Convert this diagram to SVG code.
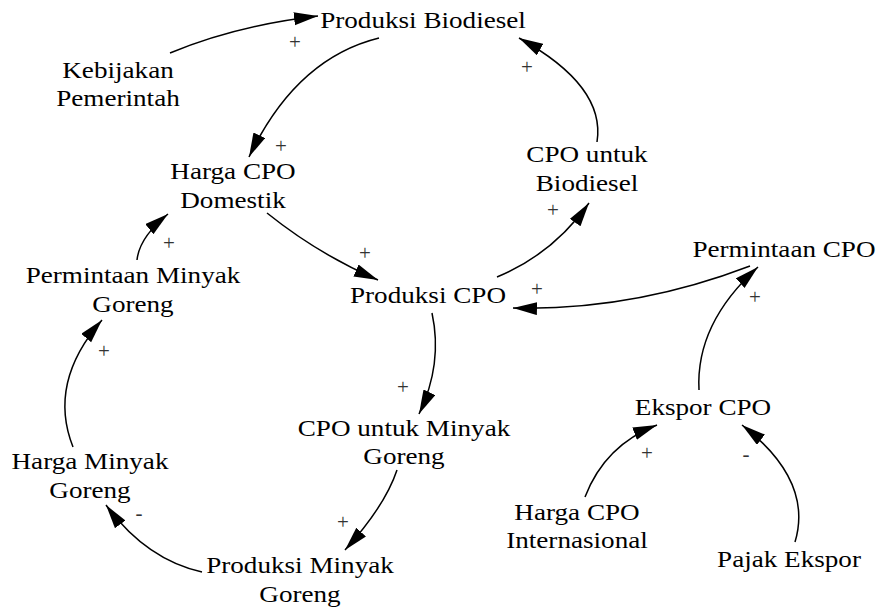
<svg xmlns="http://www.w3.org/2000/svg" width="878" height="608" viewBox="0 0 878 608">
<style>
.t{font-family:"Liberation Serif","Times New Roman",serif;font-size:23px;fill:#000;text-anchor:middle}
.s{font-family:"Liberation Serif","Times New Roman",serif;font-size:21px;fill:#333;text-anchor:middle}
.c{fill:none;stroke:#000;stroke-width:1.5;marker-end:url(#ah)}
</style>
<defs>
<marker id="ah" markerUnits="userSpaceOnUse" markerWidth="26" markerHeight="14" refX="24" refY="6.5" orient="auto">
<path d="M0,0 L24,6.5 L0,13 z" fill="#000"/>
</marker>
</defs>
<rect width="878" height="608" fill="#fff"/>
<g id="connectors">
<path class="c" d="M170,53 Q236,25.5 318,16"/>
<path class="c" d="M379,38 Q296,58.5 249,157"/>
<path class="c" d="M597,142 Q606,86 519,38"/>
<path class="c" d="M267,213 Q318,254 378,280"/>
<path class="c" d="M497,277 Q553,254 589,203"/>
<path class="c" d="M750,266 Q632.5,311 513,308"/>
<path class="c" d="M699,390 Q695.5,323.5 758,267"/>
<path class="c" d="M585,497 Q605,445 657,425"/>
<path class="c" d="M795,542 Q813.5,480.5 742,425"/>
<path class="c" d="M432,313 Q443,364 419,414"/>
<path class="c" d="M397,470 Q385,506 345,550"/>
<path class="c" d="M202,572 Q146,559.5 106,505"/>
<path class="c" d="M73,447 Q47.5,382.5 102,320"/>
<path class="c" d="M137,260 Q139.5,237 168,214"/>
<text class="s" x="295" y="49">+</text>
<text class="s" x="281" y="153">+</text>
<text class="s" x="527" y="74">+</text>
<text class="s" x="365" y="260">+</text>
<text class="s" x="553" y="217">+</text>
<text class="s" x="537" y="296">+</text>
<text class="s" x="755" y="304">+</text>
<text class="s" x="647" y="460">+</text>
<text class="s" x="746" y="461">-</text>
<text class="s" x="403" y="394">+</text>
<text class="s" x="343" y="529">+</text>
<text class="s" x="139" y="520">-</text>
<text class="s" x="104" y="358">+</text>
<text class="s" x="169" y="250">+</text>
</g>
<g id="produksi-biodiesel" transform="translate(423,0)"><text class="t" transform="scale(1.18,1)" x="0" y="28">Produksi Biodiesel</text></g>
<g id="kebijakan-pemerintah" transform="translate(118,0)"><text class="t" transform="scale(1.18,1)" x="0" y="78">Kebijakan</text><text class="t" transform="scale(1.18,1)" x="0" y="106">Pemerintah</text></g>
<g id="harga-cpo-domestik" transform="translate(233,0)"><text class="t" transform="scale(1.18,1)" x="0" y="179">Harga CPO</text><text class="t" transform="scale(1.18,1)" x="0" y="208">Domestik</text></g>
<g id="cpo-untuk-biodiesel" transform="translate(587,0)"><text class="t" transform="scale(1.18,1)" x="0" y="162">CPO untuk</text><text class="t" transform="scale(1.18,1)" x="0" y="191">Biodiesel</text></g>
<g id="produksi-cpo" transform="translate(428,0)"><text class="t" transform="scale(1.18,1)" x="0" y="303">Produksi CPO</text></g>
<g id="permintaan-cpo" transform="translate(784,0)"><text class="t" transform="scale(1.18,1)" x="0" y="257">Permintaan CPO</text></g>
<g id="permintaan-minyak-goreng" transform="translate(133,0)"><text class="t" transform="scale(1.18,1)" x="0" y="283">Permintaan Minyak</text><text class="t" transform="scale(1.18,1)" x="0" y="312">Goreng</text></g>
<g id="harga-minyak-goreng" transform="translate(90,0)"><text class="t" transform="scale(1.18,1)" x="0" y="469">Harga Minyak</text><text class="t" transform="scale(1.18,1)" x="0" y="498">Goreng</text></g>
<g id="cpo-untuk-minyak-goreng" transform="translate(404,0)"><text class="t" transform="scale(1.18,1)" x="0" y="436">CPO untuk Minyak</text><text class="t" transform="scale(1.18,1)" x="0" y="464">Goreng</text></g>
<g id="produksi-minyak-goreng" transform="translate(300,0)"><text class="t" transform="scale(1.18,1)" x="0" y="573">Produksi Minyak</text><text class="t" transform="scale(1.18,1)" x="0" y="602">Goreng</text></g>
<g id="ekspor-cpo" transform="translate(703,0)"><text class="t" transform="scale(1.18,1)" x="0" y="415">Ekspor CPO</text></g>
<g id="harga-cpo-internasional" transform="translate(577,0)"><text class="t" transform="scale(1.18,1)" x="0" y="520">Harga CPO</text><text class="t" transform="scale(1.18,1)" x="0" y="548">Internasional</text></g>
<g id="pajak-ekspor" transform="translate(789,0)"><text class="t" transform="scale(1.18,1)" x="0" y="567">Pajak Ekspor</text></g>
</svg>
